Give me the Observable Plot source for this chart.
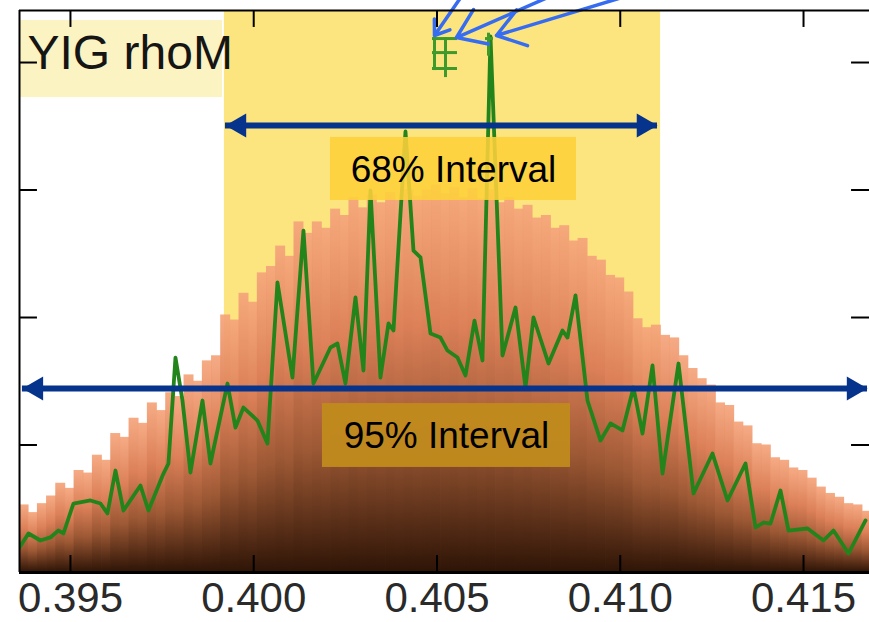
<!DOCTYPE html>
<html><head><meta charset="utf-8">
<script src="https://cdn.jsdelivr.net/npm/d3@7"></script>
<script src="https://cdn.jsdelivr.net/npm/@observablehq/plot@0.6"></script>
<style>
html,body{margin:0;padding:0;background:#fff;}
#chart{width:869px;height:622px;overflow:hidden;}
</style></head><body><div id="chart"></div>
<script>
// ---- data ----
const xTicks = [0.395, 0.400, 0.405, 0.410, 0.415];
const xTickLabels = ["0.395", "0.400", "0.405", "0.410", "0.415"];
const yTicks = [1, 2, 3, 4];
const xDomain = [0.39361, 0.4168];
const yDomain = [0, 4.408];
const title = "YIG rhoM";

const binStart = 0.39361;
const binWidth = 0.00025;
const barHeights = [
  0.53,0.47,0.54,0.60,0.70,0.66,0.80,0.78,0.92,0.88,
  1.09,1.06,1.21,1.17,1.33,1.27,1.41,1.38,1.55,1.50,
  1.66,1.70,2.02,1.98,2.19,2.12,2.35,2.40,2.56,2.48,
  2.75,2.66,2.75,2.70,2.85,2.80,2.94,2.86,2.96,2.90,
  2.98,2.92,3.00,2.95,3.00,3.04,2.97,3.02,2.94,3.01,
  2.93,3.00,2.90,2.94,2.85,2.88,2.78,2.80,2.70,2.72,
  2.60,2.62,2.48,2.45,2.33,2.31,2.20,1.99,1.92,1.94,
  1.86,1.84,1.70,1.60,1.52,1.47,1.33,1.31,1.18,1.15,
  1.01,1.00,0.90,0.88,0.82,0.80,0.74,0.67,0.62,0.59,
  0.54,0.53,0.48
];

const traceX = [
  0.39361,0.393854,0.394181,0.394454,0.394673,0.394809,0.395082,0.395546,0.395819,0.39601,
  0.396228,0.396446,0.39691,0.397128,0.397538,0.397674,0.397865,0.398056,0.398274,0.398602,
  0.39882,0.399284,0.399502,0.39972,0.400102,0.400375,0.400648,0.401057,0.401357,0.40163,
  0.402094,0.402285,0.402503,0.402776,0.402994,0.403186,0.403458,0.403677,0.403813,0.40414,
  0.404359,0.40455,0.404823,0.405095,0.405286,0.405559,0.405778,0.406023,0.406241,0.40646,
  0.406787,0.407142,0.407415,0.407633,0.408042,0.408424,0.408561,0.408779,0.409106,0.409461,
  0.409734,0.410061,0.410361,0.410607,0.41088,0.411153,0.411589,0.411999,0.412517,0.412926,
  0.413417,0.41369,0.413909,0.4141,0.414372,0.414591,0.415109,0.415546,0.415818,0.416228,
  0.416692
];
const traceY = [
  0.196,0.306,0.251,0.275,0.329,0.306,0.541,0.565,0.541,0.463,
  0.800,0.486,0.682,0.486,0.776,0.855,1.686,1.349,0.784,1.349,
  0.855,1.482,1.137,1.294,1.192,1.012,2.275,1.529,2.682,1.482,
  1.765,1.796,1.482,2.157,1.584,2.996,1.529,1.953,1.898,3.459,
  2.525,2.471,1.875,1.843,1.741,1.686,1.545,1.976,1.663,4.204,
  1.702,2.078,1.451,2.000,1.639,1.898,1.843,2.173,1.349,1.035,
  1.169,1.114,1.451,1.090,1.624,0.776,1.639,0.620,0.933,0.565,
  0.855,0.353,0.392,0.384,0.643,0.329,0.345,0.251,0.329,0.149,
  0.408
];

const interval68Region = [0.39920, 0.41110];
const arrow68 = {x1: 0.399229, x2: 0.411016, y: 3.506};
const arrow95 = {x1: 0.39369, x2: 0.416746, y: 1.443};
const label68 = {text: "68% Interval", x: 0.40545, y: 3.153, bx1: 0.402094, bx2: 0.408806, by1: 2.918, by2: 3.412};
const label95 = {text: "95% Interval", x: 0.405259, y: 1.067, bx1: 0.401876, bx2: 0.408643, by1: 0.824, by2: 1.325};
const titleBox = {x1: 0.39361, x2: 0.399147, y1: 3.725, y2: 4.329};

// statistic markers at top (error-bar like glyphs)
const markerV = [ {x: 0.404932, y1: 3.937, y2: 4.196}, {x: 0.405232, y1: 3.882, y2: 4.196}, {x: 0.406405, y1: 4.05, y2: 4.23} ];
const markerH = [ {y: 4.188, x1: 0.404877, x2: 0.405559}, {y: 4.078, x1: 0.404877, x2: 0.405559}, {y: 3.953, x1: 0.404877, x2: 0.405559}, {y: 4.188, x1: 0.406323, x2: 0.406541} ];
const pointerArrows = [
  {x1: 0.405696, y1: 4.53, x2: 0.404932, y2: 4.212},
  {x1: 0.408179, y1: 4.53, x2: 0.405532, y2: 4.196},
  {x1: 0.410280, y1: 4.53, x2: 0.406623, y2: 4.212}
];

// ---- build ----
const bars = barHeights.map((h, i) => ({x1: binStart + i * binWidth, x2: binStart + (i + 1) * binWidth, y: h}));
const trace = traceX.map((x, i) => ({x, y: traceY[i]}));
const font = "'Liberation Sans', Arial, sans-serif";
const navy = "#06338c";
const xTickLen = 0.133, yTickLen = 0.00049;

const svg = Plot.plot({
  width: 869, height: 622,
  marginLeft: 19, marginRight: 0, marginTop: 10, marginBottom: 50,
  x: {domain: xDomain},
  y: {domain: yDomain},
  style: {fontFamily: font, background: "#fff", color: "#333"},
  marks: [
    Plot.rect([titleBox], {x1: "x1", x2: "x2", y1: "y1", y2: "y2", fill: "#fbf3c2"}),
    Plot.rect([{x1: interval68Region[0], x2: interval68Region[1]}], {x1: "x1", x2: "x2", fill: "#fce47f"}),
    Plot.rectY(bars, {x1: "x1", x2: "x2", y: "y", fill: "url(#barGrad)", insetLeft: -0.4, insetRight: -0.4, clip: true}),
    Plot.line(trace, {x: "x", y: "y", stroke: "#24841c", strokeWidth: 3.8, strokeLinejoin: "round", clip: true}),
    Plot.rect([label68], {x1: "bx1", x2: "bx2", y1: "by1", y2: "by2", fill: "#fdd03a", fillOpacity: 0.88}),
    Plot.rect([label95], {x1: "bx1", x2: "bx2", y1: "by1", y2: "by2", fill: "#c18a1d", fillOpacity: 0.96}),
    Plot.text([label68, label95], {x: "x", y: "y", text: "text", fontSize: 37, fill: "#000", textAnchor: "middle", lineAnchor: "middle"}),
    // navy double arrows
    Plot.ruleY([arrow68, arrow95], {y: "y", x1: "x1", x2: "x2", stroke: navy, strokeWidth: 6}),
    Plot.dot([arrow68, arrow95], {x: "x1", y: "y", symbol: "triangle", r: 8.9, rotate: -90, fill: navy, stroke: "none", dx: 13.8}),
    Plot.dot([arrow68, arrow95], {x: "x2", y: "y", symbol: "triangle", r: 8.9, rotate: 90, fill: navy, stroke: "none", dx: -13.8}),
    // markers
    Plot.ruleX(markerV, {x: "x", y1: "y1", y2: "y2", stroke: "#3f9a2c", strokeWidth: 3}),
    Plot.ruleY(markerH, {y: "y", x1: "x1", x2: "x2", stroke: "#3f9a2c", strokeWidth: 3}),
    Plot.arrow(pointerArrows, {x1: "x1", y1: "y1", x2: "x2", y2: "y2", stroke: "#356cf2", strokeWidth: 3.5, headLength: 14, headAngle: 70}),
    // title
    Plot.text([title], {text: d => d, frameAnchor: "top-left", textAnchor: "start", lineAnchor: "top", dx: 8, dy: 24, fontSize: 48, fill: "#151515"}),
    // frame and inward ticks
    Plot.ruleX([xDomain[0]], {stroke: "#000", strokeWidth: 2}),
    Plot.ruleY([yDomain[1]], {stroke: "#000", strokeWidth: 2}),
    Plot.ruleY([0], {stroke: "#000", strokeWidth: 3}),
    Plot.ruleX(xTicks, {x: d => d, y1: 0, y2: xTickLen, stroke: "#000", strokeWidth: 2}),
    Plot.ruleX(xTicks, {x: d => d, y1: yDomain[1] - xTickLen, y2: yDomain[1], stroke: "#000", strokeWidth: 2}),
    Plot.ruleY(yTicks, {y: d => d, x1: xDomain[0], x2: xDomain[0] + yTickLen, stroke: "#000", strokeWidth: 2}),
    Plot.ruleY(yTicks, {y: d => d, x1: xDomain[1] - yTickLen, x2: xDomain[1], stroke: "#000", strokeWidth: 2}),
    Plot.axisX(xTicks, {tickSize: 0, tickPadding: 10, fontSize: 42, tickFormat: d => xTickLabels[xTicks.indexOf(d)], fill: "#2a2a2a"}),
    Plot.axisY({ticks: [], tickSize: 0, label: null})
  ]
});

const ns = "http://www.w3.org/2000/svg";
const defs = document.createElementNS(ns, "defs");
defs.innerHTML = `<linearGradient id="barGrad" x1="0" y1="0" x2="0" y2="1">
  <stop offset="0" stop-color="#f5a47a" stop-opacity="0.92"/>
  <stop offset="0.35" stop-color="#dc8058"/>
  <stop offset="0.65" stop-color="#9c5834"/>
  <stop offset="1" stop-color="#2e1406"/>
</linearGradient>`;
svg.insertBefore(defs, svg.firstChild);
document.getElementById("chart").appendChild(svg);
</script>
</body></html>
